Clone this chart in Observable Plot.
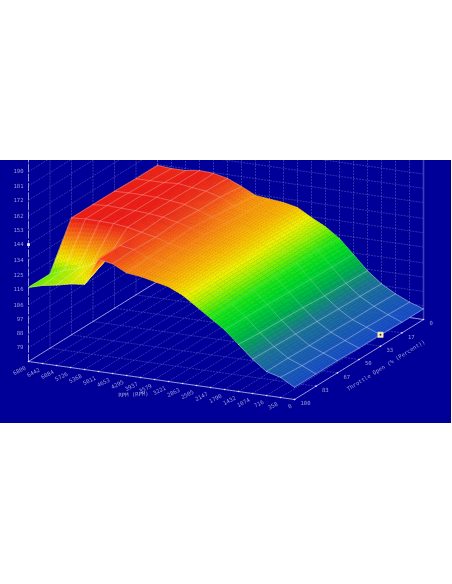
<!DOCTYPE html>
<html>
<head>
<meta charset="utf-8">
<script src="https://cdn.jsdelivr.net/npm/d3@7"></script>
<script src="https://cdn.jsdelivr.net/npm/@observablehq/plot@0.6"></script>
<style>
html,body{margin:0;padding:0;background:#fff}
#chart{position:absolute;left:0;top:160px;width:451px;height:263px;background:#000099;overflow:hidden}
svg{display:block;filter:blur(.35px)}
</style>
</head>
<body>
<div id="chart"></div>
<script>
const rpmLabels = ["6800","6442","6084","5726","5368","5011","4653","4295","3937","3579","3221","2863","2505","2147","1790","1432","1074","716","358","0"];
const throttleLabels = ["100","83","67","50","33","17","0"];
const torqueTicks = [79,88,97,106,116,125,134,144,153,162,172,181,190];
const torqueFloor = 70.3;
const torqueWallTop = 235;

const torqueAt100 = [117,119.5,121,123,124,141,139.5,135,134,132,130,126,120,114,108,100,92,85.4,83,78];
const torqueAt83  = [117,120.5,123,127,131,141.4,140,136,134.5,132.5,130,126,120.5,114.5,107.5,99,91.5,85.5,82,78];
const torqueAt67  = [144,144.7,144.5,144.3,143.2,141.3,139.4,136.7,134.8,132.5,130,126.5,121,115,107,98.5,91,85,81.5,78];
const torqueAt50  = [144,144.7,144.3,144,143.4,142.4,140.5,138,135,132.5,130.5,126.5,121,115,106.5,98,90.5,85,81,77.5];
const torqueAt33  = [144,144.3,144.3,144,143.2,142,139.5,136.5,134,132,130,126,120.5,115,106,97,90,84.5,81,77.5];
const torqueAt17  = [143.5,143.6,143.6,144.3,143,142,139.5,135,133,132,130,125,120.5,114.5,105.5,96.5,89.5,84.5,80.5,77];
const torqueAt0   = [143.5,142.8,142.8,144,143.5,141.6,137.8,133.4,132.4,131.5,129.6,124.5,120,113.8,105,96,89,84,80,77];
const torqueRows = [torqueAt100,torqueAt83,torqueAt67,torqueAt50,torqueAt33,torqueAt17,torqueAt0];

const colorStops = [78,92,100,108,114,120,125,130,135,140,144];
const colorRange = ["#1a50c4","#1e7a90","#00b04c","#00d828","#20e614","#96f000","#f0f000","#fabe00","#fa8410","#f54a18","#f02014"];

const markerRpm = 19, markerThrottle = 4, markerTorque = 77.5;
const currentTorque = 144;

// oblique projection of (rpm index, throttle index, torque) onto the picture plane
const nI = rpmLabels.length, nT = throttleLabels.length;
const X = (i,t) => 28 + 14*i + 21.5*t;
const Y = (i,t,z) => 361 + 2*i - 13.33*t - 1.586*(z - torqueFloor);
const pt = (id,i,t,z) => ({id, x:X(i,t), y:Y(i,t,z)});
const zAt = (u,v) => {
  const i0=Math.min(Math.floor(u),nI-2), t0=Math.min(Math.floor(v),nT-2), a=u-i0, b=v-t0;
  return (1-a)*(1-b)*torqueRows[t0][i0]+a*(1-b)*torqueRows[t0][i0+1]+(1-a)*b*torqueRows[t0+1][i0]+a*b*torqueRows[t0+1][i0+1];
};
// the surface mesh fades out across the mid-RPM part of the map
const meshOpacity = i => i<=5?.45: i===6?.4: i===7?.25: i===8?.15: i<=11?.08: i===12?.15: i===13?.3: i===14?.4: .6;

const axisColor = "#c4c4f0", gridColor = "#7a7ad0", labelColor = "#9c9cd8";
const mono = "DejaVu Sans Mono";
const fontSize = 5.6;
const marks = [];

// walls and floor grid
const grid = [];
let g = 0;
for (let i=0;i<nI;i++){ grid.push(pt(g,i,0,torqueFloor),pt(g,i,6,torqueFloor)); g++; grid.push(pt(g,i,6,torqueFloor),pt(g,i,6,torqueWallTop)); g++; }
for (let t=0;t<nT;t++){ grid.push(pt(g,0,t,torqueFloor),pt(g,19,t,torqueFloor)); g++; grid.push(pt(g,0,t,torqueFloor),pt(g,0,t,torqueWallTop)); g++; }
for (const z of torqueTicks){ grid.push(pt(g,0,0,z),pt(g,0,6,z)); g++; grid.push(pt(g,0,6,z),pt(g,19,6,z)); g++; }
marks.push(Plot.line(grid,{x:"x",y:"y",z:"id",stroke:gridColor,strokeWidth:.6,strokeDasharray:"1.2,1.8",strokeOpacity:.7}));

// axes
marks.push(Plot.line([pt(0,19,6,torqueFloor),pt(0,19,6,torqueWallTop)],{x:"x",y:"y",stroke:"#4040b4",strokeWidth:1.6}));
marks.push(Plot.line([pt(0,0,0,torqueFloor),pt(0,0,0,torqueWallTop)],{x:"x",y:"y",stroke:axisColor,strokeWidth:.7,strokeDasharray:"7,2.5"}));
marks.push(Plot.line([pt(1,0,6,torqueFloor),pt(1,0,0,torqueFloor),pt(1,19,0,torqueFloor),pt(1,19,6,torqueFloor),pt(1,0,6,torqueFloor)],{x:"x",y:"y",stroke:axisColor,strokeWidth:.7}));

// axis labels and ticks
const zLabels = torqueTicks.map(z=>({text:String(z),...pt(0,0,0,z)}));
const rLabels = rpmLabels.map((s,i)=>({text:s,...pt(0,i,0,torqueFloor)}));
const tLabels = throttleLabels.map((s,t)=>({text:s,...pt(0,19,t,torqueFloor)}));
marks.push(Plot.dot([...rLabels,...tLabels],{x:"x",y:"y",r:.8,fill:"#e6e6ff"}));
marks.push(Plot.text(zLabels,{x:"x",y:"y",text:"text",textAnchor:"end",dx:-5,fill:labelColor,fontSize,fontFamily:mono}));
marks.push(Plot.text(rLabels,{x:"x",y:"y",text:"text",textAnchor:"end",dx:-3,dy:6,rotate:-27,fill:labelColor,fontSize,fontFamily:mono}));
marks.push(Plot.text(tLabels,{x:"x",y:"y",text:"text",textAnchor:"start",dx:6,dy:4,fill:labelColor,fontSize,fontFamily:mono}));
marks.push(Plot.text([{text:"RPM (RPM)",...pt(0,7.5,0,torqueFloor)}],{x:"x",y:"y",text:"text",dx:0,dy:18,rotate:-3,fill:labelColor,fontSize,fontFamily:mono}));
marks.push(Plot.text([{text:"Throttle Open (% (Percent))",...pt(0,19,3,torqueFloor)}],{x:"x",y:"y",text:"text",dx:27,dy:6,rotate:-32,fill:labelColor,fontSize,fontFamily:mono}));

// surface, painted back to front
for (let i=0;i<nI-1;i++){
  const subI = 5, subT = i<6 ? 12 : 4;
  const cells = [];
  let id = 0;
  for (let t=nT-2;t>=0;t--) for (let b=subT-1;b>=0;b--) for (let a=0;a<subI;a++){
    const u0=i+a/subI,u1=i+(a+1)/subI,v0=t+b/subT,v1=t+(b+1)/subT;
    const c = zAt((u0+u1)/2,(v0+v1)/2);
    for (const [u,v] of [[u0,v0],[u1,v0],[u1,v1],[u0,v1]]) cells.push({...pt(id,u,v,zAt(u,v)),c});
    id++;
  }
  marks.push(Plot.line(cells,{x:"x",y:"y",z:"id",fill:"c",stroke:"c",strokeWidth:.5,curve:"linear-closed"}));
  const rows = [];
  let m = 0;
  for (let t=0;t<nT;t++){ rows.push(pt(m,i,t,torqueRows[t][i]),pt(m,i+1,t,torqueRows[t][i+1])); m++; }
  marks.push(Plot.line(rows,{x:"x",y:"y",z:"id",stroke:"#ffffff",strokeWidth:.6,strokeOpacity:Math.min(meshOpacity(i),meshOpacity(i+1))}));
  const cols = [];
  for (let t=0;t<nT;t++) cols.push(pt(0,i,t,torqueRows[t][i]));
  marks.push(Plot.line(cols,{x:"x",y:"y",stroke:"#ffffff",strokeWidth:.6,strokeOpacity:meshOpacity(i)}));
  if (i===nI-2){
    const last = [];
    for (let t=0;t<nT;t++) last.push(pt(0,i+1,t,torqueRows[t][i+1]));
    marks.push(Plot.line(last,{x:"x",y:"y",stroke:"#ffffff",strokeWidth:.6,strokeOpacity:meshOpacity(i+1)}));
  }
}

// cursor markers
marks.push(Plot.dot([pt(0,0,0,currentTorque)],{x:"x",y:"y",symbol:"square",r:1.5,fill:"#ffffff"}));
marks.push(Plot.dot([pt(0,markerRpm,markerThrottle,markerTorque)],{x:"x",y:"y",symbol:"square",r:3,fill:"#f8e8a0",stroke:"#ffffff",strokeWidth:.5}));
marks.push(Plot.dot([pt(0,markerRpm,markerThrottle,markerTorque)],{x:"x",y:"y",r:.9,fill:"#3a2a10"}));

const svg = Plot.plot({
  width:451,height:263,margin:0,
  style:{background:"transparent"},
  x:{domain:[0,451],range:[0,451],axis:null},
  y:{domain:[423,160],range:[263,0],axis:null},
  color:{type:"linear",domain:colorStops,range:colorRange,clamp:true},
  marks
});
document.getElementById("chart").appendChild(svg);
</script>
</body>
</html>
